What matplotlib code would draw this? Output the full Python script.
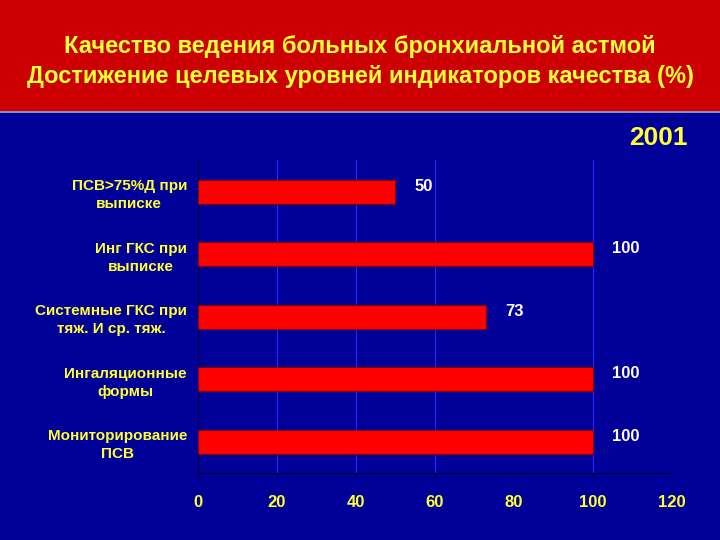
import matplotlib
matplotlib.use("Agg")
import matplotlib.pyplot as plt
from matplotlib.patches import Rectangle

plt.rcParams["font.family"] = ["Liberation Sans", "DejaVu Sans"]

# DATOS
categories = [
    "ПСВ>75%Д при\nвыписке",
    "Инг ГКС при\nвыписке",
    "Системные ГКС при\nтяж. И ср. тяж.",
    "Ингаляционные\nформы",
    "Мониторирование\nПСВ",
]
values = [50, 100, 73, 100, 100]
xticks = [0, 20, 40, 60, 80, 100, 120]
year_label = "2001"
title_lines = [
    "Качество ведения больных бронхиальной астмой",
    "Достижение целевых уровней индикаторов качества (%)",
]

BLUE = "#000099"
RED_BAND = "#cc0000"
YELLOW = "#ffff33"

fig = plt.figure(figsize=(7.2, 5.4), dpi=100)
fig.patch.set_facecolor(BLUE)

# BANDA ROJA DEL TITULO
fig.patches.append(Rectangle((0, 0.7944), 1, 0.2056, transform=fig.transFigure,
                             facecolor=RED_BAND, edgecolor="none", zorder=0))
fig.patches.append(Rectangle((0, 0.7907), 1, 0.0037, transform=fig.transFigure,
                             facecolor="#8c8cc8", edgecolor="none", zorder=0))

fig.text(0.5, 0.914, title_lines[0], ha="center", va="center", color=YELLOW,
         fontsize=17, fontweight="bold")
fig.text(0.5, 0.858, title_lines[1], ha="center", va="center", color=YELLOW,
         fontsize=17, fontweight="bold")
fig.text(0.955, 0.745, year_label, ha="right", va="center", color=YELLOW,
         fontsize=19, fontweight="bold")

ax = fig.add_axes([0.275, 0.124, 0.658, 0.579])
ax.set_facecolor(BLUE)

ypos = list(range(len(categories)))
ax.barh(ypos, values, height=0.385, color="#ff0000", edgecolor="#800000",
        linewidth=0.8, zorder=3)

# LINEAS DE CUADRICULA (la de 80 no se ve en el original)
for x in xticks[1:-1]:
    if x != 80:
        ax.axvline(x, color="#2a2aff", linewidth=0.8, zorder=1)

ax.set_xlim(0, 120)
ax.set_ylim(len(categories) - 0.5, -0.5)
ax.set_xticks(xticks)
ax.set_xticklabels([str(x) for x in xticks], color=YELLOW, fontsize=12,
                   fontweight="bold")
ax.tick_params(axis="x", length=4, color="#000044", pad=12)
for x, tick in zip(xticks, ax.xaxis.get_major_ticks()):
    if x in (80, 120):
        tick.tick1line.set_visible(False)
ax.set_yticks(ypos)
ax.set_yticklabels(categories, color=YELLOW, fontsize=11, fontweight="bold",
                   multialignment="center", linespacing=1.35)
ax.tick_params(axis="y", length=0, pad=8)

for side in ["top", "right"]:
    ax.spines[side].set_visible(False)
ax.spines["left"].set_color("#000033")
ax.spines["bottom"].set_color("#000033")

# ETIQUETAS DE VALORES
for y, v in zip(ypos, values):
    ax.annotate(f"{v}", xy=(v, y), xytext=(14, 4), textcoords="offset points",
                ha="left", va="center", color="white", fontsize=12,
                fontweight="bold")

fig.savefig("out.png", dpi=100, facecolor=fig.get_facecolor())
